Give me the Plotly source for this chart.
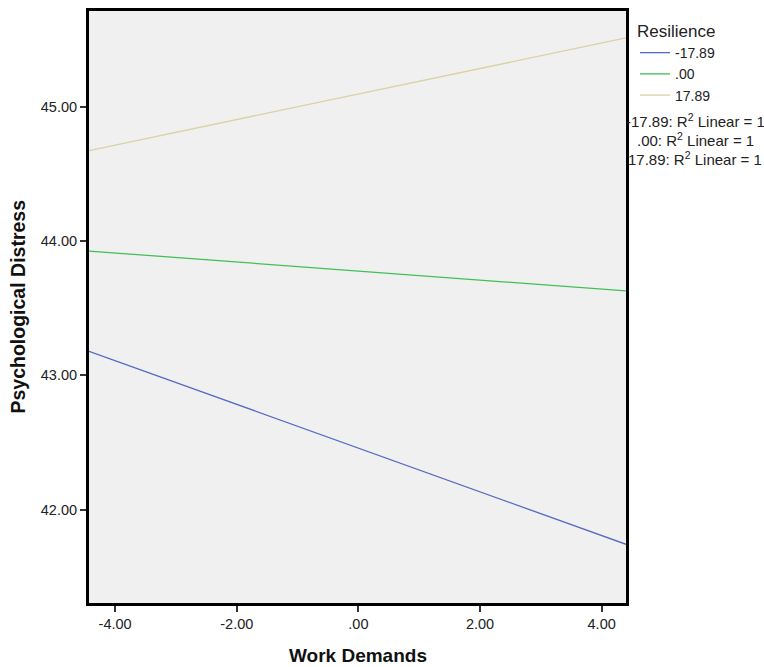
import plotly.graph_objects as go

# Data
work_demands = [-4.43, 4.40]
series_names = ["-17.89", ".00", "17.89"]
distress_low = [43.178, 41.741]
distress_mid = [43.924, 43.627]
distress_high = [44.672, 45.511]
x_tickvals = [-4, -2, 0, 2, 4]
x_ticktext = ["-4.00", "-2.00", ".00", "2.00", "4.00"]
y_tickvals = [42, 43, 44, 45]
y_ticktext = ["42.00", "43.00", "44.00", "45.00"]
fit_labels = ["-17.89: R<sup>2</sup> Linear = 1", ".00: R<sup>2</sup> Linear = 1", "17.89: R<sup>2</sup> Linear = 1"]

colors = ["#5569c2", "#40c055", "#d9d2a4"]
series = [distress_low, distress_mid, distress_high]

fig = go.Figure()
for name, ys, c in zip(series_names, series, colors):
    fig.add_trace(go.Scatter(x=work_demands, y=ys, mode="lines", name=name,
                             line=dict(color=c, width=1.3)))

FONT = "Liberation Sans, Arial, sans-serif"
L, R, T, B = 89, 138, 8, 64
W, H = 764, 667

axis_common = dict(showgrid=False, zeroline=False, showline=True, linecolor="black",
                   linewidth=3, mirror=True, ticks="outside", ticklen=6, tickwidth=1.5,
                   tickcolor="#333", tickfont=dict(size=14.5, color="#222"))

fig.update_layout(
    width=W, height=H,
    margin=dict(l=L, r=R, t=T, b=B),
    paper_bgcolor="white", plot_bgcolor="#f0f0f0",
    font=dict(family=FONT, size=14, color="#222"),
    showlegend=True,
    legend=dict(x=0.0, y=1.0, xref="paper", xanchor="left", yanchor="top",
                title=dict(text="Resilience", font=dict(size=17, color="#222")),
                font=dict(size=14, color="#222"), tracegroupgap=0,
                itemwidth=30, bgcolor="rgba(0,0,0,0)"),
    xaxis=dict(range=[-4.43, 4.40], tickvals=x_tickvals, ticktext=x_ticktext, **axis_common),
    yaxis=dict(range=[41.304, 45.711], tickvals=y_tickvals, ticktext=y_ticktext, **axis_common),
)

pw = W - L - R
ph = H - T - B
# legend placed just right of the plot frame
fig.update_layout(legend=dict(x=(635 - L) / pw, y=1 - (12 - T) / ph))

annotations = []
for i, t in enumerate(fit_labels):
    annotations.append(dict(text=t, xref="paper", yref="paper",
                            x=(695 - L) / pw, y=1 - (118 + 19 * i - T) / ph,
                            xanchor="center", yanchor="middle", showarrow=False,
                            font=dict(size=15, color="#222")))
annotations.append(dict(text="<b>Work Demands</b>", xref="paper", yref="paper",
                        x=(358 - L) / pw, y=1 - (656 - T) / ph, xanchor="center", yanchor="middle",
                        showarrow=False, font=dict(size=19, color="#111")))
annotations.append(dict(text="<b>Psychological Distress</b>", xref="paper", yref="paper",
                        x=(18 - L) / pw, y=1 - (305 - T) / ph, xanchor="center", yanchor="middle",
                        textangle=-90, showarrow=False, font=dict(size=19.5, color="#111")))
fig.update_layout(annotations=annotations)

fig.write_html("out.html", config={"displayModeBar": False},
               post_script="document.body.style.margin='0';document.body.style.padding='0';")
